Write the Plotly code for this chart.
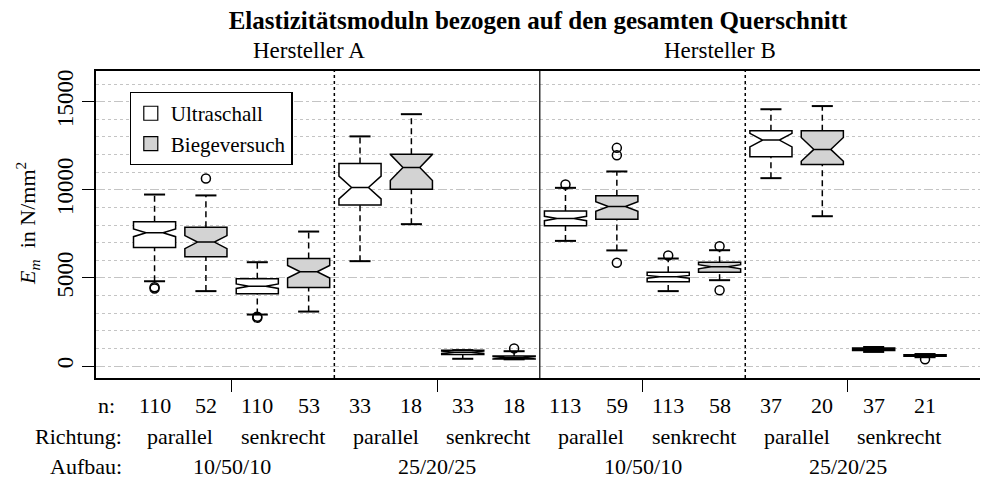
import numpy as np
import plotly.graph_objects as go

# box order: Hersteller A (1-8), Hersteller B (9-16); within each:
# 10/50/10 parallel, 10/50/10 senkrecht, 25/20/25 parallel, 25/20/25 senkrecht
# odd = Ultraschall, even = Biegeversuch
positions = list(range(1, 17))
n_values = [110, 52, 110, 53, 33, 18, 33, 18, 113, 59, 113, 58, 37, 20, 37, 21]
lower_whisker = [4810, 4250, 2920, 3090, 5950, 8050, 410, 380, 7100, 6560, 4250, 4870, 10660, 8500, 800, 500]
q1 = [6720, 6200, 4100, 4450, 9130, 10030, 660, 400, 7960, 8330, 4780, 5320, 11870, 11440, 880, 550]
median = [7560, 7030, 4530, 5350, 10130, 11270, 780, 470, 8370, 9050, 5060, 5630, 12820, 12290, 950, 590]
q3 = [8180, 7880, 4950, 6100, 11490, 12020, 890, 570, 8790, 9660, 5320, 5890, 13350, 13350, 1020, 640]
upper_whisker = [9730, 9680, 5890, 7630, 13030, 14290, 900, 840, 10110, 11040, 6100, 6570, 14570, 14750, 1080, 680]

outlier_pos = [1, 1, 2, 3, 3, 8, 9, 10, 10, 10, 11, 12, 12, 16]
outlier_val = [4470, 4400, 10640, 2740, 2800, 1000, 10300, 12380, 11960, 5860, 6270, 6800, 4300, 380]

richtung = ["parallel", "senkrecht"] * 4
aufbau = ["10/50/10", "25/20/25", "10/50/10", "25/20/25"]
hersteller = ["Hersteller A", "Hersteller B"]
y_ticks = [0, 5000, 10000, 15000]

FONT = "Liberation Serif"
BOX_W = 0.82
CAP = 0.205

pos = np.array(positions)
# notch half width like R: 1.58 * IQR / sqrt(n)
notch = 1.58 * (np.array(q3) - np.array(q1)) / np.sqrt(np.array(n_values))

fig = go.Figure()

for k, (name, fill) in enumerate([("Ultraschall", "white"), ("Biegeversuch", "#d3d3d3")]):
    idx = slice(k, None, 2)
    fig.add_trace(go.Box(
        x=pos[idx], q1=q1[idx], median=median[idx], q3=q3[idx],
        lowerfence=q1[idx], upperfence=q3[idx],
        notchspan=notch[idx], notched=True, notchwidth=0.3,
        width=BOX_W, whiskerwidth=0, fillcolor=fill,
        line=dict(color="black", width=1.5),
        boxpoints=False, showlegend=False, hoverinfo="skip",
    ))

# dashed whiskers
wx, wy = [], []
for p, a, b, c, d in zip(positions, lower_whisker, q1, q3, upper_whisker):
    wx += [p, p, None, p, p, None]
    wy += [a, b, None, c, d, None]
fig.add_trace(go.Scatter(x=wx, y=wy, mode="lines", showlegend=False, hoverinfo="skip",
                         line=dict(color="black", width=1.5, dash="6px,4px")))

# whisker caps
cx, cy = [], []
for p, a, d in zip(positions, lower_whisker, upper_whisker):
    cx += [p - CAP, p + CAP, None, p - CAP, p + CAP, None]
    cy += [a, a, None, d, d, None]
fig.add_trace(go.Scatter(x=cx, y=cy, mode="lines", showlegend=False, hoverinfo="skip",
                         line=dict(color="black", width=2)))

# outliers
fig.add_trace(go.Scatter(x=outlier_pos, y=outlier_val, mode="markers", showlegend=False,
                         marker=dict(symbol="circle-open", size=9, color="black",
                                     line=dict(width=1.5))))

# legend entries
for name, fill in [("Ultraschall", "white"), ("Biegeversuch", "#d3d3d3")]:
    fig.add_trace(go.Scatter(x=[None], y=[None], mode="markers", name=name,
                             marker=dict(symbol="square", size=14, color=fill,
                                         line=dict(color="black", width=1.2))))

# separators
for xv, dash, w in [(4.5, "dot", 1.5), (8.5, "solid", 1.2), (12.5, "dot", 1.5)]:
    fig.add_shape(type="line", xref="x", yref="paper", x0=xv, x1=xv, y0=0, y1=1,
                  line=dict(color="black", width=w, dash=dash))

ann = []
lab_font = dict(family=FONT, size=22, color="black")
ann.append(dict(text="n:", x=0.024, y=-0.091, xanchor="right"))
ann.append(dict(text="Richtung:", x=0.032, y=-0.192, xanchor="right"))
ann.append(dict(text="Aufbau:", x=0.032, y=-0.287, xanchor="right"))
for a in ann:
    a.update(xref="paper", yref="paper", yanchor="middle", showarrow=False, font=lab_font)
for p, n in zip(positions, n_values):
    ann.append(dict(text=str(n), x=p, y=-0.091))
for i, r in enumerate(richtung):
    ann.append(dict(text=r, x=1.5 + 2 * i, y=-0.192))
for i, a in enumerate(aufbau):
    ann.append(dict(text=a, x=2.5 + 4 * i, y=-0.287))
for a in ann[3:]:
    a.update(xref="x", yref="paper", yanchor="middle", showarrow=False, font=lab_font)
for i, h in enumerate(hersteller):
    ann.append(dict(text=h, x=4 + 8 * i, y=1.068, xref="x", yref="paper", yanchor="middle",
                    showarrow=False, font=dict(family=FONT, size=23, color="black")))

ann.append(dict(text="<i>E</i><sub><i>m</i></sub>  in N/mm<sup>2</sup>", textangle=-90,
                x=-0.077, y=0.505, xref="paper", yref="paper", showarrow=False,
                xanchor="center", yanchor="middle", font=lab_font))

# the page body adds an 8px offset, so the figure is 16px smaller than the window
fig.update_layout(
    width=980, height=472,
    margin=dict(l=88, r=6, t=63, b=102),
    paper_bgcolor="white", plot_bgcolor="white",
    font=dict(family=FONT, size=21, color="black"),
    title=dict(text="<b>Elastizitätsmoduln bezogen auf den gesamten Querschnitt</b>",
               x=0.5, xref="paper", xanchor="center", y=1 - 12 / 472, yanchor="middle",
               font=dict(family=FONT, size=25, color="black")),
    boxmode="overlay",
    annotations=ann,
    legend=dict(x=0.038, y=0.932, xanchor="left", yanchor="top",
                bordercolor="black", borderwidth=1.2, bgcolor="white",
                font=dict(family=FONT, size=21), itemwidth=30),
    xaxis=dict(range=[-0.14, 17.07], showgrid=False, zeroline=False,
               tickvals=[2.5, 6.5, 10.5, 14.5], showticklabels=False,
               ticks="outside", ticklen=12, tickcolor="black", tickwidth=1.2,
               showline=True, mirror=True, linecolor="black", linewidth=1.5),
    yaxis=dict(range=[-680, 16740], tickvals=y_ticks, ticktext=[str(v) for v in y_ticks],
               tickangle=-90,
               ticks="outside", ticklen=12, tickcolor="black", tickwidth=1.2,
               showgrid=True, gridcolor="#c4c4c4", griddash="dash", gridwidth=1,
               zeroline=False, showline=True, mirror=True, linecolor="black", linewidth=1.5,
               tickfont=dict(family=FONT, size=23),
               minor=dict(dtick=1000, showgrid=True, gridcolor="#c4c4c4",
                          griddash="dot", gridwidth=1)),
)

fig.write_html("out.html")
